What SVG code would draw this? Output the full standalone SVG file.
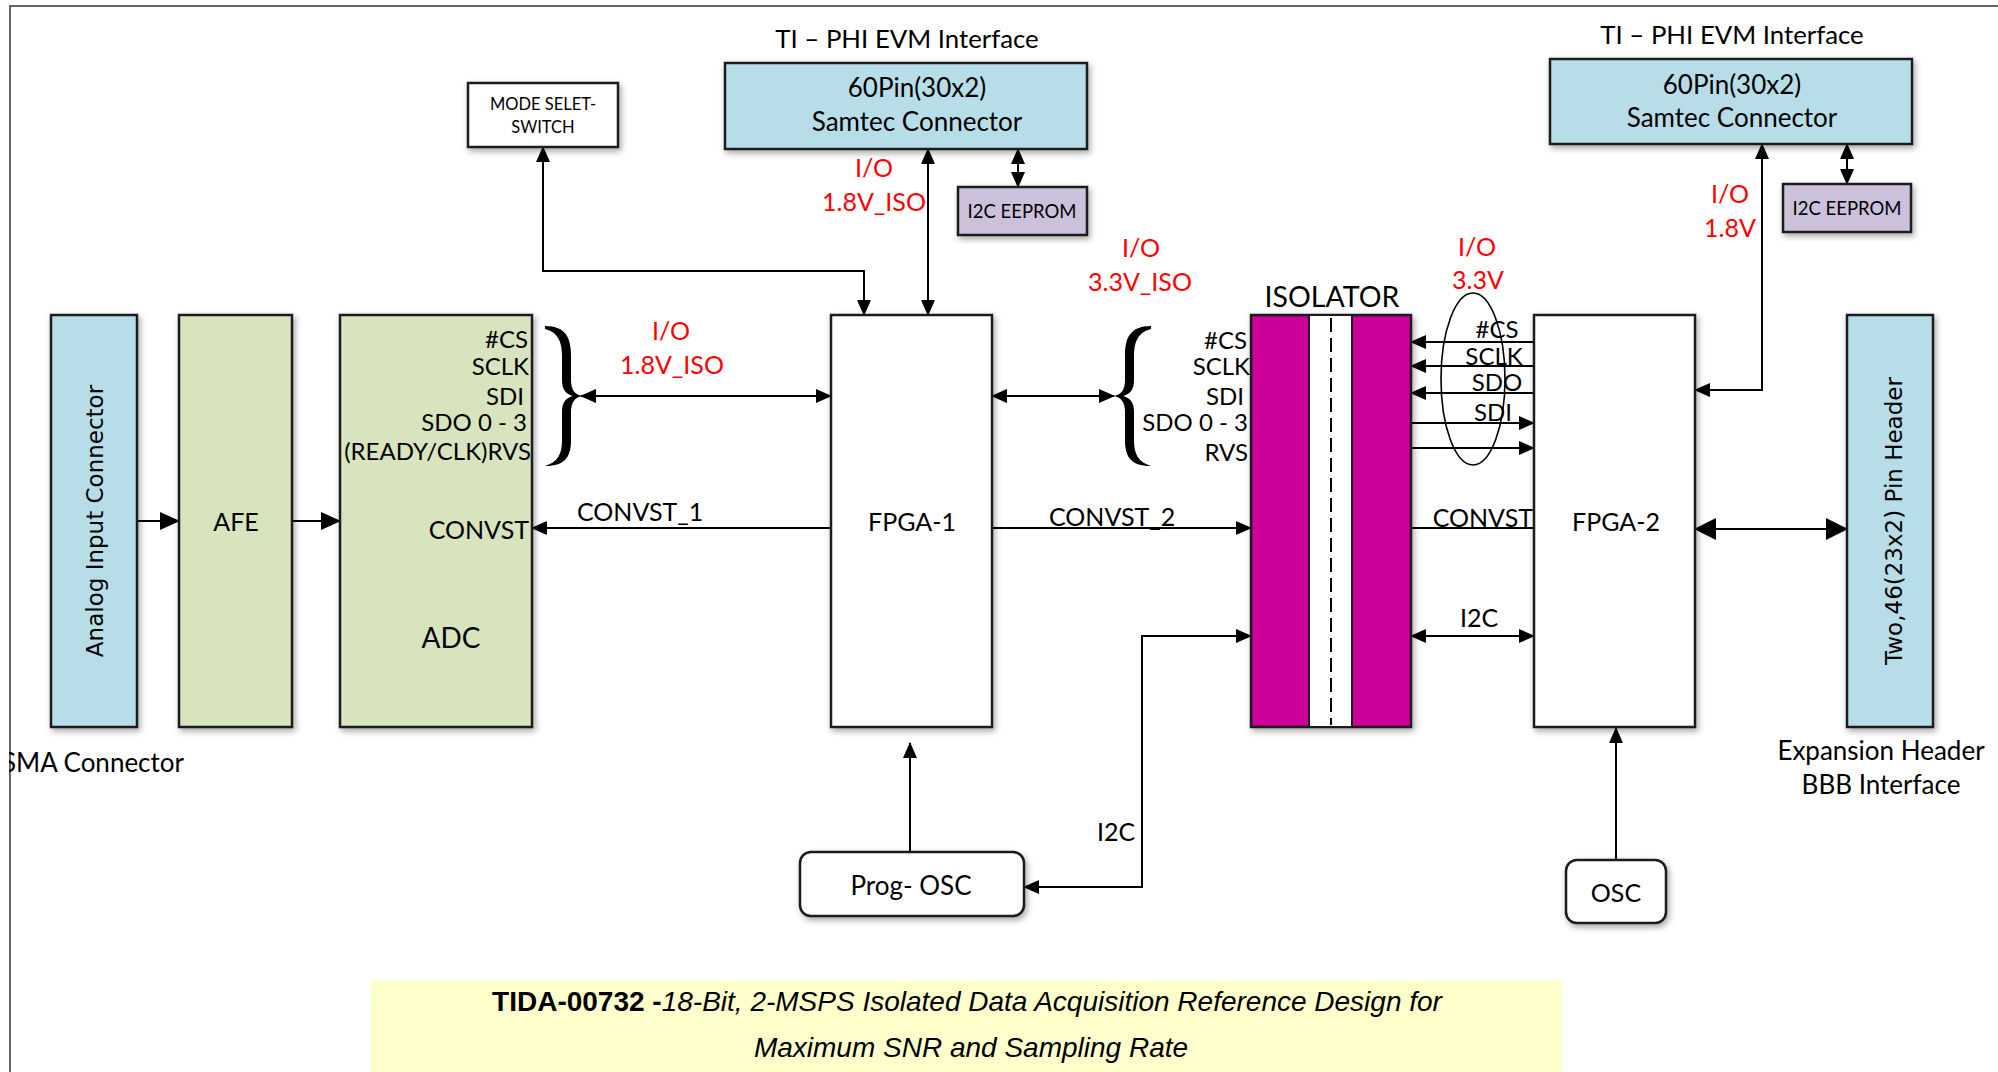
<svg xmlns="http://www.w3.org/2000/svg" width="1998" height="1072" viewBox="0 0 1998 1072">
<defs>
<style>
.box{stroke:#1a1a1a;stroke-width:2.5;filter:url(#sh)}
.t{font-family:Lato,"Liberation Sans",sans-serif;font-size:25px;fill:#000}
.s{font-size:24px}
.m{font-size:26px}
.c{text-anchor:middle}
.e{text-anchor:end}
.red{fill:#ff0000}
.v{font-family:"DejaVu Sans",Verdana,sans-serif;font-size:23px;fill:#000;text-anchor:middle}
.ln{stroke:#000;stroke-width:2;fill:none}
.ttl{font-family:"Liberation Sans",Arial,sans-serif;font-size:28px;fill:#000;text-anchor:middle}
</style>
<filter id="sh" x="-10%" y="-10%" width="130%" height="130%">
<feDropShadow dx="2" dy="3" stdDeviation="3" flood-color="#000" flood-opacity="0.35"/>
</filter>
<marker id="ah" markerUnits="userSpaceOnUse" markerWidth="16" markerHeight="14" refX="15" refY="7" orient="auto-start-reverse">
<path d="M0,0 L16,7 L0,14 z" fill="#000"/>
</marker>
<marker id="ahT" markerUnits="userSpaceOnUse" markerWidth="20" markerHeight="18" refX="19" refY="9" orient="auto-start-reverse">
<path d="M0,0 L20,9 L0,18 z" fill="#000"/>
</marker>
<marker id="ahB" markerUnits="userSpaceOnUse" markerWidth="22" markerHeight="22" refX="21" refY="11" orient="auto-start-reverse">
<path d="M0,0 L22,11 L0,22 z" fill="#000"/>
</marker>
<clipPath id="inner"><rect x="9" y="7" width="1989" height="1065"/></clipPath>
</defs>
<rect x="0" y="0" width="1998" height="1072" fill="#fff"/>
<g id="frame">
<path d="M10,1072 L10,6 L1998,6" stroke="#333" stroke-width="1.5" fill="none"/>
</g>

<g id="title-box">
<rect x="371" y="980" width="1191" height="92" fill="#FFFFCC"/>
<text class="ttl" x="967" y="1011"><tspan font-weight="bold">TIDA-00732 -</tspan><tspan font-style="italic">18-Bit, 2-MSPS Isolated Data Acquisition Reference Design for</tspan></text>
<text class="ttl" x="971" y="1057" font-style="italic">Maximum SNR and Sampling Rate</text>
</g>

<g id="connectors">
<line class="ln" x1="137" y1="521" x2="179" y2="521" stroke-width="4" marker-end="url(#ahT)"/>
<line class="ln" x1="292" y1="521" x2="340" y2="521" stroke-width="4" marker-end="url(#ahT)"/>
<line class="ln" x1="831" y1="528" x2="532" y2="528" marker-end="url(#ah)"/>
<line class="ln" x1="581" y1="396" x2="831" y2="396" marker-start="url(#ah)" marker-end="url(#ah)"/>
<line class="ln" x1="992" y1="396" x2="1114" y2="396" marker-start="url(#ah)" marker-end="url(#ah)"/>
<line class="ln" x1="992" y1="528" x2="1251" y2="528" marker-end="url(#ah)"/>
<path class="ln" d="M543,147 L543,271 L864,271 L864,315" marker-start="url(#ah)" marker-end="url(#ah)"/>
<line class="ln" x1="928" y1="149" x2="928" y2="315" marker-start="url(#ah)" marker-end="url(#ah)"/>
<line class="ln" x1="1018" y1="149" x2="1018" y2="187" marker-start="url(#ah)" marker-end="url(#ah)"/>
<line class="ln" x1="910" y1="852" x2="910" y2="743" marker-end="url(#ah)"/>
<path class="ln" d="M1024,887 L1142,887 L1142,636 L1251,636" marker-start="url(#ah)" marker-end="url(#ah)"/>
<line class="ln" x1="1536" y1="342" x2="1411" y2="342" marker-end="url(#ah)"/>
<line class="ln" x1="1536" y1="366" x2="1411" y2="366" marker-end="url(#ah)"/>
<line class="ln" x1="1536" y1="393" x2="1411" y2="393" marker-end="url(#ah)"/>
<line class="ln" x1="1411" y1="423" x2="1534" y2="423" marker-end="url(#ah)"/>
<line class="ln" x1="1411" y1="448" x2="1534" y2="448" marker-end="url(#ah)"/>
<line class="ln" x1="1411" y1="528" x2="1534" y2="528"/>
<line class="ln" x1="1411" y1="636" x2="1534" y2="636" marker-start="url(#ah)" marker-end="url(#ah)"/>
<line class="ln" x1="1695" y1="529" x2="1847" y2="529" stroke-width="5" marker-start="url(#ahB)" marker-end="url(#ahB)"/>
<path class="ln" d="M1695,390 L1762,390 L1762,144" marker-start="url(#ah)" marker-end="url(#ah)"/>
<line class="ln" x1="1847" y1="144" x2="1847" y2="184" marker-start="url(#ah)" marker-end="url(#ah)"/>
<line class="ln" x1="1616" y1="860" x2="1616" y2="728" marker-end="url(#ah)"/>
<ellipse cx="1473" cy="379" rx="32" ry="86" fill="none" stroke="#000" stroke-width="1.6"/>
<path id="brace-left" d="M545,326 C566,326 571,338 571,356 L571,380 C571,390 575,395 583,396 C575,397 571,402 571,412 L571,440 C571,456 566,466 545,466 C558,462 562,454 562,440 L562,412 C562,402 566,398 573,396 C566,394 562,390 562,380 L562,356 C562,342 558,332 545,329 Z" fill="#000"/>
<path id="brace-right" d="M1151,326 C1130,326 1125,338 1125,356 L1125,380 C1125,390 1121,395 1113,396 C1121,397 1125,402 1125,412 L1125,440 C1125,456 1130,466 1151,466 C1138,462 1134,454 1134,440 L1134,412 C1134,402 1130,398 1123,396 C1130,394 1134,390 1134,380 L1134,356 C1134,342 1138,332 1151,329 Z" fill="#000"/>
</g>

<g id="analog-input">
<rect class="box" x="51" y="315" width="86" height="412" fill="#B7DEE8"/>
<text class="v" x="95" y="529" transform="rotate(-90 95 521)">Analog Input Connector</text>
<text class="t m e" x="184" y="772" clip-path="url(#inner)">SMA Connector</text>
</g>

<g id="afe">
<rect class="box" x="179" y="315" width="113" height="412" fill="#D7E4BD"/>
<text class="t c" x="236" y="531">AFE</text>
</g>

<g id="adc">
<rect class="box" x="340" y="315" width="192" height="412" fill="#D7E4BD"/>
<text class="t s e" x="528" y="348">#CS</text>
<text class="t s e" x="529" y="375">SCLK</text>
<text class="t s e" x="524" y="405">SDI</text>
<text class="t s e" x="527" y="431">SDO 0 - 3</text>
<text class="t s e" x="531" y="460">(READY/CLK)RVS</text>
<text class="t e" x="529" y="539">CONVST</text>
<text class="t c" x="451" y="648" style="font-size:28px">ADC</text>
</g>

<g id="labels-left">
<text class="t c red" x="671" y="340">I/O</text>
<text class="t c red" x="672" y="374">1.8V_ISO</text>
<text class="t" x="577" y="521">CONVST_1</text>
<text class="t" x="1049" y="526">CONVST_2</text>
<text class="t c red" x="874" y="177">I/O</text>
<text class="t c red" x="874" y="211">1.8V_ISO</text>
<text class="t c red" x="1141" y="257">I/O</text>
<text class="t c red" x="1140" y="291">3.3V_ISO</text>
<text class="t c" x="1116" y="841">I2C</text>
</g>

<g id="mode-select">
<rect class="box" x="468" y="83" width="150" height="64" fill="#fff"/>
<text class="t c" x="543" y="110" style="font-size:16.5px">MODE SELET-</text>
<text class="t c" x="543" y="133" style="font-size:16.5px">SWITCH</text>
</g>

<g id="samtec-1">
<text class="t c" x="907" y="48" style="font-size:25.8px">TI – PHI EVM Interface</text>
<rect class="box" x="725" y="63" width="362" height="86" fill="#B7DEE8"/>
<text class="t m c" x="917" y="97">60Pin(30x2)</text>
<text class="t m c" x="917" y="131">Samtec Connector</text>
</g>

<g id="eeprom-1">
<rect class="box" x="958" y="187" width="129" height="48" fill="#CCC1DA"/>
<text class="t c" x="1022" y="218" style="font-size:18.5px">I2C EEPROM</text>
</g>

<g id="fpga-1">
<rect class="box" x="831" y="315" width="161" height="412" fill="#fff"/>
<text class="t c" x="912" y="531">FPGA-1</text>
</g>

<g id="isolator">
<text class="t c" x="1332" y="307" style="font-size:28.5px">ISOLATOR</text>
<rect class="box" x="1251" y="315" width="160" height="412" fill="#CC0099"/>
<rect x="1309" y="315" width="43" height="412" fill="#fff" stroke="#1a1a1a" stroke-width="2"/>
<line x1="1331" y1="318" x2="1331" y2="725" stroke="#000" stroke-width="2" stroke-dasharray="14 6"/>
<text class="t s e" x="1247" y="349">#CS</text>
<text class="t s e" x="1250" y="375">SCLK</text>
<text class="t s e" x="1244" y="405">SDI</text>
<text class="t s e" x="1248" y="431">SDO 0 - 3</text>
<text class="t s e" x="1248" y="461">RVS</text>
</g>

<g id="labels-right">
<text class="t c red" x="1477" y="256">I/O</text>
<text class="t c red" x="1478" y="289">3.3V</text>
<text class="t s c" x="1497" y="338">#CS</text>
<text class="t s c" x="1494" y="365">SCLK</text>
<text class="t s c" x="1497" y="391">SDO</text>
<text class="t s c" x="1493" y="421">SDI</text>
<text class="t e" x="1533" y="527">CONVST</text>
<text class="t c" x="1479" y="627">I2C</text>
<text class="t c red" x="1730" y="203">I/O</text>
<text class="t c red" x="1730" y="237">1.8V</text>
</g>

<g id="fpga-2">
<rect class="box" x="1534" y="315" width="161" height="412" fill="#fff"/>
<text class="t c" x="1616" y="531">FPGA-2</text>
</g>

<g id="samtec-2">
<text class="t c" x="1732" y="44" style="font-size:25.8px">TI – PHI EVM Interface</text>
<rect class="box" x="1550" y="59" width="362" height="85" fill="#B7DEE8"/>
<text class="t m c" x="1732" y="94">60Pin(30x2)</text>
<text class="t m c" x="1732" y="127">Samtec Connector</text>
</g>

<g id="eeprom-2">
<rect class="box" x="1783" y="184" width="128" height="48" fill="#CCC1DA"/>
<text class="t c" x="1847" y="215" style="font-size:18.5px">I2C EEPROM</text>
</g>

<g id="expansion-header">
<rect class="box" x="1847" y="315" width="86" height="412" fill="#B7DEE8"/>
<text class="v" x="1894" y="529" transform="rotate(-90 1894 521)">Two,46(23x2) Pin Header</text>
<text class="t m c" x="1881" y="760">Expansion Header</text>
<text class="t m c" x="1881" y="794">BBB Interface</text>
</g>

<g id="prog-osc">
<rect class="box" x="800" y="852" width="224" height="64" rx="11" fill="#fff"/>
<text class="t m c" x="911" y="895">Prog- OSC</text>
</g>

<g id="osc">
<rect class="box" x="1566" y="860" width="100" height="63" rx="11" fill="#fff"/>
<text class="t c" x="1616" y="902">OSC</text>
</g>
</svg>
